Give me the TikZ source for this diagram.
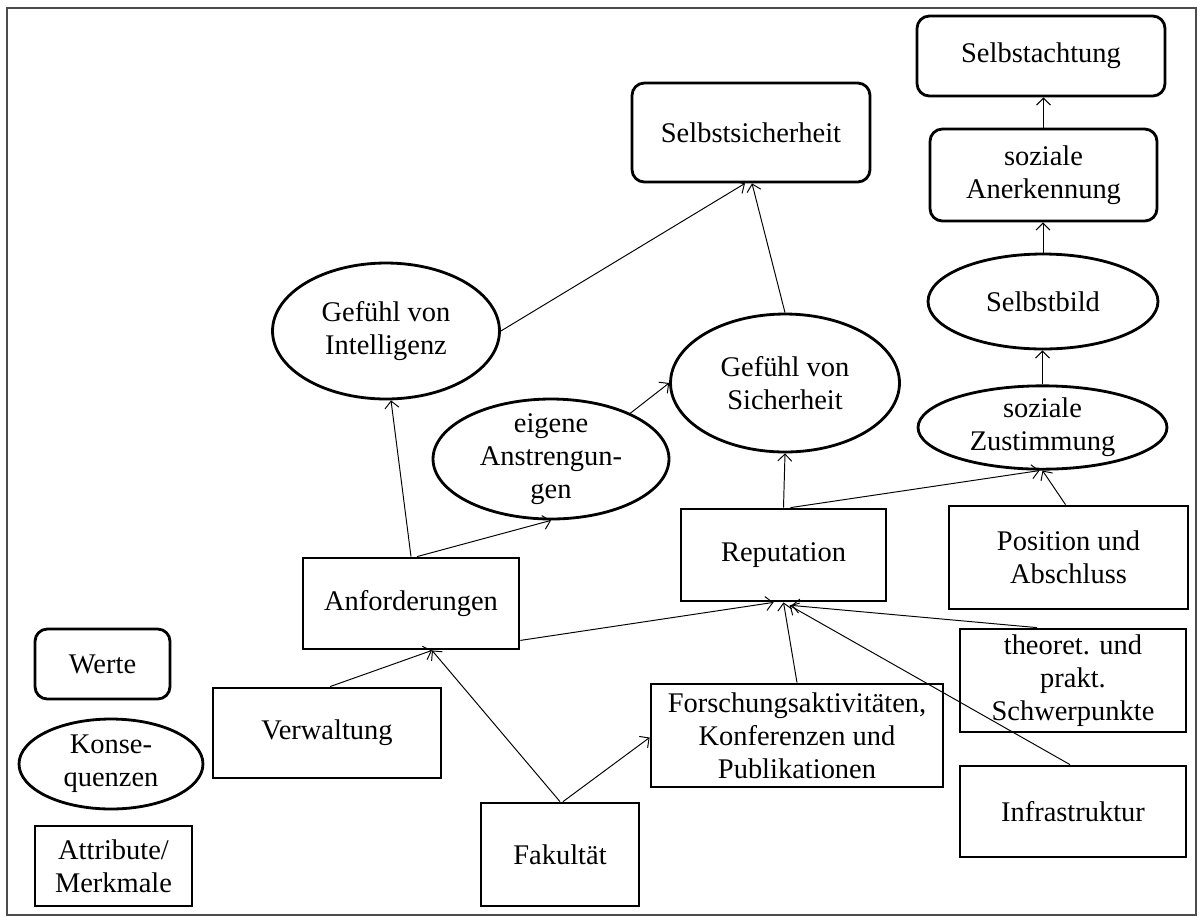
\documentclass[tikz,border=0pt]{standalone}
\usepackage{fontspec}
\setmainfont{Liberation Serif}
\usepackage{tikz}
\usetikzlibrary{positioning, arrows.meta, shapes.geometric, calc}

\begin{document}
\begin{tikzpicture}[
        x=0.02cm, y=-0.02cm,
        font=\fontsize{16.2}{18.8}\selectfont,
        attr/.style={draw, rectangle, line width=1.6pt, align=center, inner sep=1pt},
        wert/.style={attr, rounded corners=7pt},
        kons/.style={draw, ellipse, line width=1.6pt, align=center, inner sep=0pt},
        pfeil/.style={-{Straight Barb[length=4pt, width=8pt]}, line width=0.55pt},
    ]
    \useasboundingbox (0,0) rectangle (1200,917);
    \draw[line width=1.6pt, black!70] (7,8) rectangle (1196,915);

    % ---- Werte ----
    \node[wert, minimum width=4.76cm, minimum height=1.98cm] (sich) at (751,132.5) {Selbstsicherheit};
    \node[wert, minimum width=4.96cm, minimum height=1.6cm] (achtung) at (1041,56) {Selbstachtung};
    \node[wert, minimum width=4.54cm, minimum height=1.84cm] (aner) at (1043.5,175) {soziale\\Anerkennung};

    % ---- Konsequenzen ----
    \node[kons, minimum width=4.54cm, minimum height=2.72cm] (intel) at (386,331) {Gefühl von\\Intelligenz};
    \node[kons, minimum width=4.58cm, minimum height=2.76cm] (gsich) at (785,383) {Gefühl von\\Sicherheit};
    \node[kons, minimum width=4.72cm, minimum height=2.4cm, inner ysep=-2pt] (anstr) at (551,459) {eigene\\Anstrengun-\\gen};
    \node[kons, minimum width=4.6cm, minimum height=1.9cm] (bild) at (1043,301.5) {Selbstbild};
    \node[kons, minimum width=4.98cm, minimum height=1.66cm] (zust) at (1042.5,427.5) {soziale\\Zustimmung};

    % ---- Attribute ----
    \node[attr, minimum width=4.32cm, minimum height=1.82cm] (anf) at (411,603.5) {Anforderungen};
    \node[attr, minimum width=4.1cm, minimum height=1.84cm] (rep) at (783.5,555) {Reputation};
    \node[attr, minimum width=4.78cm, minimum height=2.06cm] (pos) at (1068.5,557.5) {Position und\\Abschluss};
    \node[attr, minimum width=4.52cm, minimum height=2.06cm] (theo) at (1073,680.5) {theoret. und\\prakt.\\Schwerpunkte};
    \node[attr, minimum width=5.84cm, minimum height=2.06cm] (forsch) at (797,735.5) {Forschungsaktivitäten,\\Konferenzen und\\Publikationen};
    \node[attr, minimum width=4.52cm, minimum height=1.82cm] (infra) at (1073,811.5) {Infrastruktur};
    \node[attr, minimum width=4.56cm, minimum height=1.8cm] (verw) at (327,733) {Verwaltung};
    \node[attr, minimum width=3.16cm, minimum height=2.06cm] (fak) at (560,854.5) {Fakultät};

    % ---- Legende ----
    \node[wert, minimum width=2.7cm, minimum height=1.4cm] (lwert) at (102.5,664) {Werte};
    \node[kons, minimum width=3.68cm, minimum height=1.8cm] (lkons) at (111,764) {Konse-\\quenzen};
    \node[attr, minimum width=3.14cm, minimum height=1.6cm] (lattr) at (113.5,866) {Attribute/\\Merkmale};

    % ---- Verbindungen ----
    \draw[pfeil] (intel.east) -- ($(sich.south)+(-6,0)$);
    \draw[pfeil] (gsich.north) -- ($(sich.south)+(1,0)$);
    \draw[pfeil] (anf.north) -- ($(intel.south)+(5,0)$);
    \draw[pfeil] ($(anf.north)+(6,0)$) -- (anstr.south);
    \draw[pfeil] (anstr.30) -- (gsich.west);
    \draw[pfeil] (rep.north) -- (gsich.south);
    \draw[pfeil] ($(rep.north)+(7,0)$) -- ($(zust.south)+(-3,0)$);
    \draw[pfeil] ($(pos.north)+(-3,0)$) -- (zust.south);
    \draw[pfeil] (zust.north) -- (zust.north |- bild.south);
    \draw[pfeil] (bild.north) -- (bild.north |- aner.south);
    \draw[pfeil] (aner.north) -- (aner.north |- achtung.south);
    \draw[pfeil] ($(anf.south east)+(0,-10)$) -- ($(rep.south)+(-10,0)$);
    \draw[pfeil] (forsch.north) -- (rep.south);
    \draw[pfeil] ($(theo.north)+(-36,0)$) -- ($(rep.south)+(8,3)$);
    \draw[pfeil] ($(infra.north)+(-3,0)$) -- ($(rep.south)+(6,3)$);
    \draw[pfeil] ($(verw.north)+(3,0)$) -- ($(anf.south)+(21,0)$);
    \draw[pfeil] (fak.north) -- ($(anf.south)+(21,0)$);
    \draw[pfeil] ($(fak.north)+(3,0)$) -- ($(forsch.west)+(0,2)$);
\end{tikzpicture}
\end{document}
